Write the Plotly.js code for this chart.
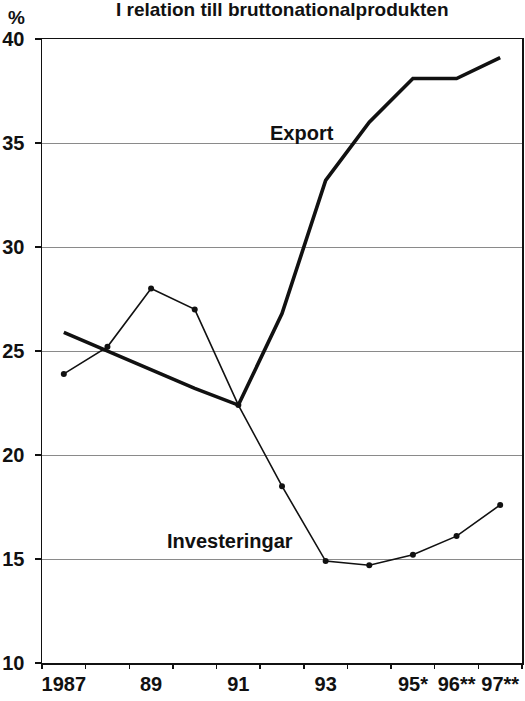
<!DOCTYPE html>
<html>
<head>
<meta charset="utf-8">
<script src="https://cdn.plot.ly/plotly-3.0.1.min.js"></script>
<style>
  html, body { margin: 0; padding: 0; background: #fff; }
  #chart { width: 525px; height: 701px; }
</style>
</head>
<body>
<div id="chart"></div>
<script>
const years = [1987, 1988, 1989, 1990, 1991, 1992, 1993, 1994, 1995, 1996, 1997];
const exportShare = [25.9, 25.0, 24.1, 23.2, 22.4, 26.8, 33.2, 36.0, 38.1, 38.1, 39.1];
const investeringar = [23.9, 25.2, 28.0, 27.0, 22.4, 18.5, 14.9, 14.7, 15.2, 16.1, 17.6];
const xTickVals = [1987, 1989, 1991, 1993, 1995, 1996, 1997];
const xTickText = ['1987', '89', '91', '93', '95*', '96**', '97**'];
const yTickVals = [10, 15, 20, 25, 30, 35, 40];
const titleText = 'I relation till bruttonationalprodukten';

const FONT = '"Liberation Sans", Arial, Helvetica, sans-serif';
const xRange = [years[0] - 0.5, years[years.length - 1] + 0.5];

const traces = [
  {
    x: years, y: investeringar, type: 'scatter', mode: 'lines+markers',
    line: { color: '#111', width: 1.6 },
    marker: { color: '#111', size: 6 },
    hoverinfo: 'skip', showlegend: false
  },
  {
    x: years, y: exportShare, type: 'scatter', mode: 'lines',
    line: { color: '#111', width: 3.6 },
    hoverinfo: 'skip', showlegend: false
  },
  {
    x: [years[0]], y: [null], xaxis: 'x2', type: 'scatter', mode: 'lines',
    hoverinfo: 'skip', showlegend: false
  }
];

const layout = {
  width: 525, height: 701,
  margin: { l: 42, r: 3, t: 39, b: 38, pad: 0 },
  paper_bgcolor: '#fff', plot_bgcolor: '#fff',
  font: { family: FONT, color: '#111' },
  xaxis: {
    range: xRange, tickmode: 'array', tickvals: xTickVals, ticktext: xTickText,
    ticks: '', showgrid: false, zeroline: false,
    showline: true, linecolor: '#111', linewidth: 1.5, mirror: true,
    tickfont: { family: FONT, size: 20, weight: 'bold', color: '#111' },
    ticklabelstandoff: 2
  },
  xaxis2: {
    overlaying: 'x', anchor: 'y', side: 'bottom', range: xRange,
    tickmode: 'linear', tick0: years[0] + 0.5, dtick: 1,
    ticks: 'outside', ticklen: 5, tickwidth: 1.5, tickcolor: '#111',
    showticklabels: false, showgrid: false, zeroline: false, showline: false
  },
  yaxis: {
    range: [10, 40], tickmode: 'array', tickvals: yTickVals,
    ticks: 'outside', ticklen: 6, tickwidth: 1.5, tickcolor: '#111',
    showgrid: true, gridcolor: '#8a8a8a', gridwidth: 1, zeroline: false,
    showline: true, linecolor: '#111', linewidth: 1.5, mirror: true,
    tickfont: { family: FONT, size: 20, weight: 'bold', color: '#111' },
    ticklabelstandoff: 6
  },
  annotations: [
    {
      text: titleText, xref: 'paper', yref: 'paper',
      x: (282 - 42) / 480, y: 1 + (39 - 22) / 624, xanchor: 'center', yanchor: 'bottom',
      showarrow: false, font: { family: FONT, size: 19, weight: 'bold', color: '#111' }
    },
    {
      text: '%', xref: 'paper', yref: 'paper',
      x: -26 / 480, y: 1 + (39 - 18) / 624, xanchor: 'center', yanchor: 'middle',
      showarrow: false, font: { family: FONT, size: 19, weight: 'bold', color: '#111' }
    },
    {
      text: 'Export', xref: 'x', yref: 'y', x: 1992.46, y: 35.5,
      xanchor: 'center', yanchor: 'middle', showarrow: false,
      font: { family: FONT, size: 20, weight: 'bold', color: '#111' }
    },
    {
      text: 'Investeringar', xref: 'x', yref: 'y', x: 1990.8, y: 15.85,
      xanchor: 'center', yanchor: 'middle', showarrow: false,
      font: { family: FONT, size: 20, weight: 'bold', color: '#111' }
    }
  ]
};

Plotly.newPlot('chart', traces, layout, { staticPlot: true, displayModeBar: false });
</script>
</body>
</html>
